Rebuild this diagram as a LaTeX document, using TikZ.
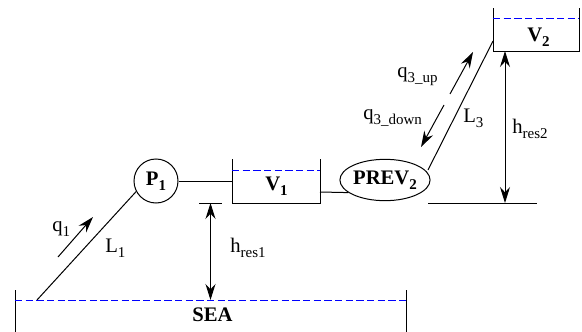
\documentclass[tikz,border=0pt]{standalone}
\usepackage{fontspec}
\setmainfont{Liberation Serif}
\usetikzlibrary{arrows.meta}
\usetikzlibrary{shapes.geometric}

\newcommand{\lowsub}[1]{\raisebox{-4pt}{\fontsize{11.25pt}{12pt}\selectfont #1}}

\tikzset{
	pipe/.style={line width=0.75pt},
	level/.style={blue, line width=0.75pt, dash pattern=on 5.5pt off 2.5pt},
	flow/.style={line width=0.75pt, -{Stealth[length=12pt,width=7.5pt,inset=4pt]}},
	height/.style={line width=0.75pt, {Stealth[length=12pt,width=7.5pt,inset=4pt]}-{Stealth[length=12pt,width=7.5pt,inset=4pt]}},
	label/.style={inner sep=0pt, anchor=base west, font=\fontsize{15.5pt}{17pt}\selectfont},
	tag/.style={inner sep=0pt, anchor=base west, font=\fontsize{15.5pt}{17pt}\selectfont\bfseries},
	unit/.style={draw, pipe, inner sep=0pt, font=\fontsize{15.5pt}{17pt}\selectfont\bfseries}
}

\begin{document}
\begin{tikzpicture}[x=0.75pt, y=-0.75pt]
	\useasboundingbox (0, 0) rectangle (582, 332);
	\coordinate (sea_tl) at (15, 290);
	\coordinate (sea_bl) at (15, 332);
	\coordinate (sea_tr) at (406, 290);
	\coordinate (sea_br) at (406, 332);
	\coordinate (sea_wl) at (15, 300);
	\coordinate (sea_wr) at (406, 300);
	\coordinate (l1_start) at (37, 300);
	\coordinate (l3_start) at (428, 170);
	\coordinate (v1_tl) at (232, 159);
	\coordinate (v1_bl) at (232, 203);
	\coordinate (v1_br) at (320, 203);
	\coordinate (v1_tr) at (320, 159);
	\coordinate (v2_tl) at (493, 8);
	\coordinate (v2_bl) at (493, 51);
	\coordinate (v2_br) at (579, 51);
	\coordinate (v2_tr) at (579, 8);
	\coordinate (v2_in) at (493, 41);
	\coordinate (v1_in) at (232, 181);
	\coordinate (v1_out) at (320, 192);
	\coordinate (res1_l) at (199, 203);
	\coordinate (res1_r) at (222, 203);
	\coordinate (res1_top) at (210.5, 203);
	\coordinate (res1_bot) at (210.5, 300);
	\coordinate (res2_l) at (428, 203);
	\coordinate (res2_r) at (537, 203);
	\coordinate (res2_top) at (505, 51);
	\coordinate (res2_bot) at (505, 203);

	\node[unit, circle, minimum size=33pt] (p1) at (156, 181) {P\lowsub{1}};
	\node[unit, ellipse, minimum width=65pt, minimum height=31pt] (prev2) at (385, 180) {PREV\lowsub{2}};

	\draw[pipe] (sea_tl) -- (sea_bl);
	\draw[pipe] (sea_tr) -- (sea_br);
	\draw[level] (sea_wl) -- (sea_wr);
	\draw[pipe] (v1_tl) -- (v1_bl) -- (v1_br) -- (v1_tr);
	\draw[pipe] (v2_tl) -- (v2_bl) -- (v2_br) -- (v2_tr);
	\draw[level] (232, 170) -- (320, 170);
	\draw[level] (493, 18.5) -- (579, 18.5);

	\draw[pipe] (l1_start) -- (p1.208);
	\draw[pipe] (p1) -- (v1_in);
	\draw[pipe] (v1_out) -- (prev2.199);
	\draw[pipe] (l3_start) -- (v2_in);

	\draw[pipe] (res1_l) -- (res1_r);
	\draw[pipe] (res2_l) -- (res2_r);
	\draw[height] (res1_top) -- (res1_bot);
	\draw[height] (res2_top) -- (res2_bot);

	\coordinate (q1_a) at (58, 257);
	\coordinate (q1_b) at (93, 217);
	\coordinate (q3u_a) at (450, 94);
	\coordinate (q3u_b) at (473, 52);
	\coordinate (q3d_a) at (444, 105);
	\coordinate (q3d_b) at (421, 147);
	\draw[flow] (q1_a) -- (q1_b);
	\draw[flow] (q3u_a) -- (q3u_b);
	\draw[flow] (q3d_a) -- (q3d_b);

	\node[tag] (sea) at (192, 321) {SEA};
	\node[tag] (v1) at (265, 190) {V\lowsub{1}};
	\node[tag] (v2) at (527, 41) {V\lowsub{2}};
	\node[label] (q1) at (52, 231) {q\lowsub{1}};
	\node[label] (l1) at (105, 252) {L\lowsub{1}};
	\node[label] (hres1) at (230, 252) {h\lowsub{res1}};
	\node[label] (q3up) at (397, 77) {q\lowsub{3\_up}};
	\node[label] (q3down) at (363, 119) {q\lowsub{3\_down}};
	\node[label] (l3) at (463, 122) {L\lowsub{3}};
	\node[label] (hres2) at (512, 133) {h\lowsub{res2}};
\end{tikzpicture}
\end{document}
